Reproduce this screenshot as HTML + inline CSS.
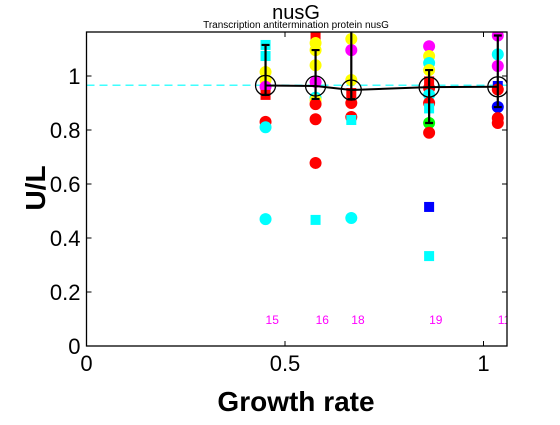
<!DOCTYPE html>
<html><head><meta charset="utf-8"><style>
body{margin:0;background:#fff;width:560px;height:420px;overflow:hidden}
svg text{font-family:"Liberation Sans",sans-serif}
</style></head><body>
<svg id="chart" width="560" height="420" xmlns="http://www.w3.org/2000/svg">
<text x="296" y="19" font-size="20" text-anchor="middle">nusG</text>
<text x="296" y="28" font-size="10" text-anchor="middle">Transcription antitermination protein nusG</text>
<g id="plot"></g>
<text x="296" y="411" font-size="28" font-weight="bold" text-anchor="middle">Growth rate</text>
<text transform="translate(45,188) rotate(-90)" font-size="28" font-weight="bold" text-anchor="middle">U/L</text>
</svg>
<script>
const groupX=[0.451,0.577,0.667,0.863,1.036];
const means=[0.965,0.963,0.948,0.959,0.96];
const errLo=[0.93,0.915,0.914,0.826,0.885];
const errHi=[1.115,1.096,1.17,1.022,1.15];
const counts=["15","16","18","19","11"];
const refLine=0.966;
const ptGroup=[0,0,0,0,0,0,0,0,0, 1,1,1,1,1,1,1,1,1,1,1, 2,2,2,2,2,2,2,2, 3,3,3,3,3,3,3,3,3,3,3,3,3, 4,4,4,4,4,4,4,4];
const ptValue=[1.115,1.074,1.015,0.985,0.96,0.93,0.83,0.81,0.47, 1.144,1.122,1.096,1.04,0.978,0.92,0.91,0.896,0.84,0.678,0.467, 1.137,1.096,0.985,0.937,0.9,0.848,0.837,0.474, 1.11,1.074,1.048,1.022,0.98,0.955,0.93,0.9,0.88,0.826,0.79,0.515,0.333, 1.15,1.08,1.037,0.963,0.95,0.885,0.844,0.826];
const ptColor=["#0ff","#0ff","#ff0","#ff0","#f0f","#f00","#f00","#0ff","#0ff", "#f00","#ff0","#ff0","#ff0","#f0f","#0ff","#ff0","#f00","#f00","#f00","#0ff", "#ff0","#f0f","#ff0","#f00","#f00","#f00","#0ff","#0ff", "#f0f","#ff0","#0ff","#ff0","#f00","#f00","#0ff","#f00","#0ff","#0f0","#f00","#00f","#0ff", "#f0f","#0ff","#f0f","#00f","#f00","#00f","#f00","#f00"];
const ptShape=["s","s","c","c","c","s","c","c","c", "s","c","c","c","c","c","c","c","c","c","s", "c","c","c","s","c","c","s","c", "c","c","c","c","s","c","c","c","s","c","c","s","s", "c","c","c","s","c","c","c","c"];
const xTicks=[0,0.5,1];
const yTicks=[0,0.2,0.4,0.6,0.8,1];
const L=86.5,R=507,T=32,B=346;
const sx=v=>L+v*397, sy=v=>B-v*270;
const NS="http://www.w3.org/2000/svg";
const g=document.getElementById('plot');
function mk(t,a,p){const e=document.createElementNS(NS,t);for(const k in a)e.setAttribute(k,a[k]);(p||g).appendChild(e);return e;}
const clip=mk('clipPath',{id:'cp'});mk('rect',{x:L,y:T,width:R-L,height:B-T},clip);
const data=mk('g',{'clip-path':'url(#cp)'});
const ref=mk('line',{x1:L,x2:R,y1:sy(refLine),y2:sy(refLine),stroke:'#0ff','stroke-width':1.2,'stroke-dasharray':'8,5'},data);


ptValue.forEach((v,i)=>{
 const x=sx(groupX[ptGroup[i]]),y=sy(v);let e;
 if(ptShape[i]==='s'){e=mk('rect',{x:x-5,y:y-5,width:10,height:10,fill:ptColor[i]},data);}
 else{e=mk('circle',{cx:x,cy:y,r:6,fill:ptColor[i]},data);}
 
 
});
const pts=groupX.map((x,i)=>sx(x)+','+sy(means[i])).join(' ');
const ml=mk('polyline',{points:pts,fill:'none',stroke:'#000','stroke-width':2},data);


groupX.forEach((x,i)=>{
 const X=sx(x);
 const eb=mk('path',{d:`M${X},${sy(errLo[i])}V${sy(errHi[i])}M${X-4},${sy(errLo[i])}H${X+4}M${X-4},${sy(errHi[i])}H${X+4}`,stroke:'#000','stroke-width':2.2,fill:'none'},data);
 
 
 const mc=mk('circle',{cx:X,cy:sy(means[i]),r:10,fill:'none',stroke:'#000','stroke-width':1.3},data);
 
 
 const ct=mk('text',{x:X,y:324,'font-size':12,fill:'#f0f'},data);ct.textContent=counts[i];
 
 
});
const frame=mk('rect',{x:L,y:T,width:R-L,height:B-T,fill:'none',stroke:'#000','stroke-width':1.3});


xTicks.forEach(v=>{const X=sx(v);
 mk('path',{d:`M${X},${B}v-5M${X},${T}v5`,stroke:'#000'});
 const t=mk('text',{x:X,y:B+25,'font-size':22,'text-anchor':'middle'});t.textContent=String(v);
 
 });
yTicks.forEach(v=>{const Y=sy(v);
 mk('path',{d:`M${L},${Y}h5M${R},${Y}h-5`,stroke:'#000'});
 const t=mk('text',{x:L-6,y:Y+8,'font-size':22,'text-anchor':'end'});t.textContent=String(v);
 
 });
</script>
</body></html>
